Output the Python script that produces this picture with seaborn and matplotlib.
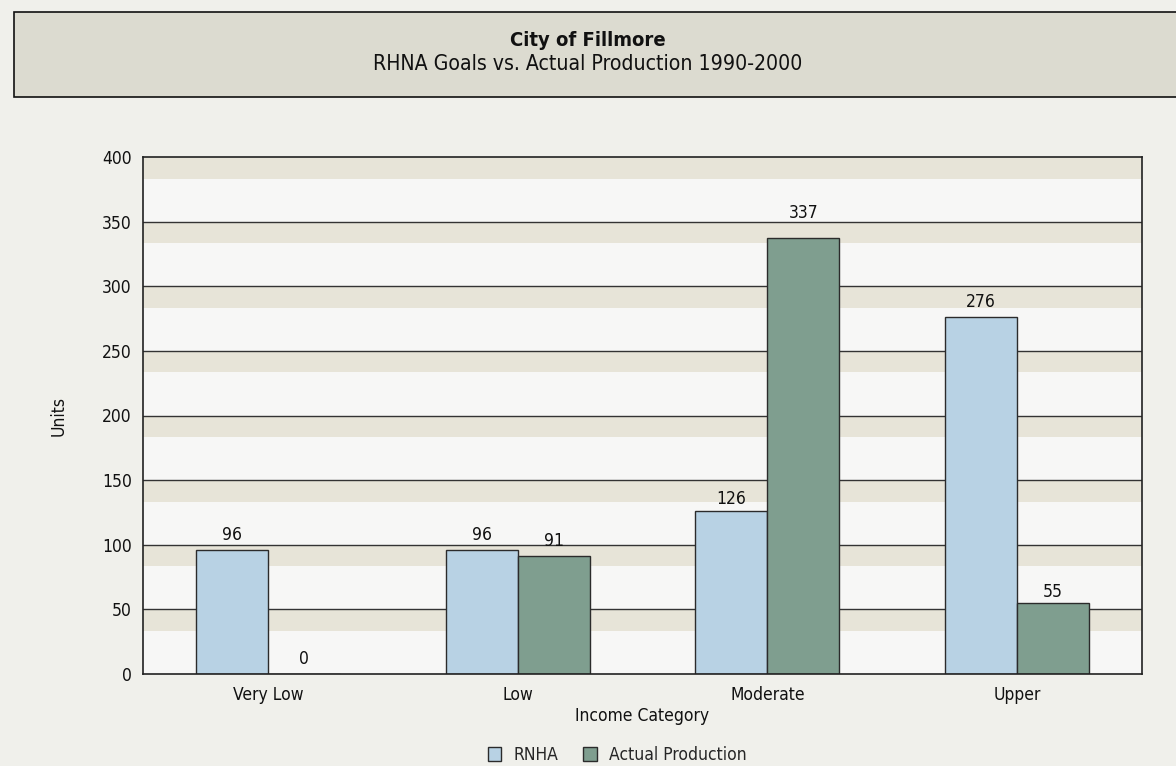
import matplotlib
matplotlib.use("Agg")
import matplotlib.pyplot as plt
from matplotlib.patches import Rectangle
import seaborn as sns
import pandas as pd

categories = ["Very Low", "Low", "Moderate", "Upper"]
rhna_goals = [96, 96, 126, 276]
actual_production = [0, 91, 337, 55]
series_names = ["RNHA", "Actual Production"]
y_ticks = [0, 50, 100, 150, 200, 250, 300, 350, 400]

df = pd.DataFrame({
    "Income Category": categories * 2,
    "Units": rhna_goals + actual_production,
    "Series": [series_names[0]] * len(categories) + [series_names[1]] * len(categories),
})

sns.set_style("white")
plt.rcParams["font.family"] = ["DejaVu Sans"]
plt.rcParams["font.stretch"] = "condensed"

BG = "#f0f0eb"
BAND = "#e7e4d8"
PLOT_BG = "#f7f7f6"
TXT = "#111111"
FS = 12.5
colors = {"RNHA": "#b8d2e4", "Actual Production": "#7f9e8f"}
EDGE = "#2b2b2b"

fig = plt.figure(figsize=(11.76, 7.66), dpi=100, facecolor=BG)

# header box
fig.patches.append(Rectangle((14 / 1176, 1 - 97 / 766), 1200 / 1176, 85 / 766,
                             transform=fig.transFigure, facecolor="#dcdbd0",
                             edgecolor=TXT, linewidth=1.2, zorder=0))
fig.text(0.5, 1 - 40 / 766, "City of Fillmore", ha="center", va="center",
         fontsize=14.5, fontweight="bold", color=TXT)
fig.text(0.5, 1 - 64 / 766, "RHNA Goals vs. Actual Production 1990-2000", ha="center",
         va="center", fontsize=15.2, color=TXT)

ax = fig.add_axes([143 / 1176, 1 - 674 / 766, (1142 - 143) / 1176, (674 - 157) / 766])
ax.set_facecolor(PLOT_BG)

# alternating bands below each gridline
for v in y_ticks[1:]:
    ax.axhspan(v - 50 / 3, v, color=BAND, zorder=0, linewidth=0)
for v in y_ticks[1:-1]:
    ax.axhline(v, color="#333333", linewidth=1, zorder=1)

sns.barplot(data=df, x="Income Category", y="Units", hue="Series",
            palette=colors, width=0.576, edgecolor=EDGE, linewidth=1,
            saturation=1, ax=ax, zorder=2, legend=False)

# value labels, nudged clear of the gridlines where needed
label_pad = {337: 12, 55: 1.4, 126: 2}
for cont in ax.containers:
    for bar in cont:
        h = bar.get_height()
        ax.annotate(f"{int(round(h))}", (bar.get_x() + bar.get_width() / 2, h),
                    xytext=(0, label_pad.get(int(round(h)), 4.3)), textcoords="offset points",
                    ha="center", va="bottom", fontsize=FS, color=TXT)

ax.set_ylim(0, 400)
ax.set_xlim(-0.5, len(categories) - 0.5)
ax.set_yticks(y_ticks)
ax.set_xticks(range(len(categories)))
ax.set_xticklabels(categories)
ax.set_xticks([i - 0.5 for i in range(len(categories) + 1)], minor=True)
ax.tick_params(axis="x", which="major", length=0, pad=9, labelsize=FS, colors=TXT)
ax.tick_params(axis="x", which="minor", length=5, width=1, color="#333333", direction="out")
ax.tick_params(axis="y", length=5, width=1, color="#333333", direction="out",
               labelsize=FS, labelcolor=TXT, pad=3)

for s in ax.spines.values():
    s.set_color("#222222")
    s.set_linewidth(1.2)

ax.set_xlabel("Income Category", fontsize=FS, color=TXT, labelpad=2)
ax.set_ylabel("Units", fontsize=FS, color=TXT, labelpad=25)

handles = [Rectangle((0, 0), 1, 1, facecolor=colors[n], edgecolor=EDGE, linewidth=1)
           for n in series_names]
fig.legend(handles, series_names, loc="center", bbox_to_anchor=(617 / 1176, 1 - 755 / 766),
           ncol=2, frameon=False, fontsize=FS, handlelength=0.8, handleheight=0.8,
           handletextpad=0.7, columnspacing=1.4, borderpad=0)

fig.savefig("out.png", dpi=100, facecolor=BG)
